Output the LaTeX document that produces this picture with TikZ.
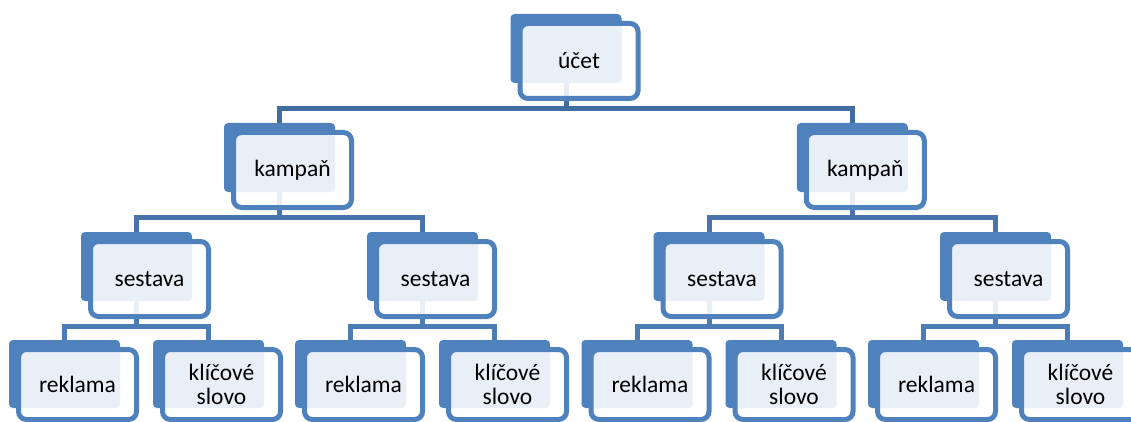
\documentclass[tikz,border=0pt]{standalone}
\usepackage{fontspec}
\setmainfont{Carlito}
\usetikzlibrary{backgrounds}
\definecolor{accent}{HTML}{4F81BD}
\definecolor{connA}{HTML}{416C9F}
\definecolor{connB}{HTML}{4874AB}
\definecolor{connC}{HTML}{4C7CB6}
\tikzset{
  backbox/.style={fill=accent, draw=none, rounded corners=4pt, minimum width=111pt,
    minimum height=69pt, anchor=north west, inner sep=0pt, outer sep=0pt},
  frontbox/.style={draw=accent, line width=5pt, fill=white, fill opacity=0.88,
    text opacity=1, rounded corners=8pt, minimum width=118pt, minimum height=75pt,
    anchor=north west, inner sep=0pt, outer sep=0pt, align=center, text=black,
    font=\fontsize{23.5}{24}\selectfont},
  leafback/.style={minimum height=68pt},
  leaffront/.style={minimum height=70pt},
  connA/.style={draw=connA, line width=5pt},
  connB/.style={draw=connB, line width=5pt},
  connC/.style={draw=connC, line width=5pt},
}
\newcommand\mkbox[6]{%
  \node[backbox,#1] (#3b) at (#4,#5) {};
  \node[frontbox,#2] (#3) at (#4+9.5,#5+9.5) {#6};
}
\begin{document}
\begin{tikzpicture}[x=1pt,y=-1pt]
\useasboundingbox (0,0) rectangle (1131,422);
\clip (0,0) rectangle (1131,422);
% level 0
\mkbox{}{}{r}{510.5}{14}{účet}
% level 1
\mkbox{}{}{k1}{224}{123}{kampaň}
\mkbox{}{}{k2}{796.75}{123}{kampaň}
% level 2
\mkbox{}{}{s1}{81}{232}{sestava}
\mkbox{}{}{s2}{367}{232}{sestava}
\mkbox{}{}{s3}{653.5}{232}{sestava}
\mkbox{}{}{s4}{940}{232}{sestava}
% level 3
\mkbox{leafback}{leaffront}{l1}{9}{340}{reklama}
\mkbox{leafback}{leaffront}{l2}{153}{340}{klíčové\\slovo}
\mkbox{leafback}{leaffront}{l3}{295}{340}{reklama}
\mkbox{leafback}{leaffront}{l4}{439}{340}{klíčové\\slovo}
\mkbox{leafback}{leaffront}{l5}{581.5}{340}{reklama}
\mkbox{leafback}{leaffront}{l6}{725.5}{340}{klíčové\\slovo}
\mkbox{leafback}{leaffront}{l7}{868}{340}{reklama}
\mkbox{leafback}{leaffront}{l8}{1012}{340}{klíčové\\slovo}
% connectors
\begin{scope}[on background layer]
\draw[connA] (rb.south) -- ++(0,25.5) -| (k1b.north);
\draw[connA] (rb.south) -- ++(0,25.5) -| (k2b.north);
\draw[connB] (k1b.south) -- ++(0,25.5) -| (s1b.north);
\draw[connB] (k1b.south) -- ++(0,25.5) -| (s2b.north);
\draw[connB] (k2b.south) -- ++(0,25.5) -| (s3b.north);
\draw[connB] (k2b.south) -- ++(0,25.5) -| (s4b.north);
\draw[connC] (s1b.south) -- ++(0,25.5) -| (l1b.north);
\draw[connC] (s1b.south) -- ++(0,25.5) -| (l2b.north);
\draw[connC] (s2b.south) -- ++(0,25.5) -| (l3b.north);
\draw[connC] (s2b.south) -- ++(0,25.5) -| (l4b.north);
\draw[connC] (s3b.south) -- ++(0,25.5) -| (l5b.north);
\draw[connC] (s3b.south) -- ++(0,25.5) -| (l6b.north);
\draw[connC] (s4b.south) -- ++(0,25.5) -| (l7b.north);
\draw[connC] (s4b.south) -- ++(0,25.5) -| (l8b.north);
\end{scope}
\end{tikzpicture}
\end{document}
